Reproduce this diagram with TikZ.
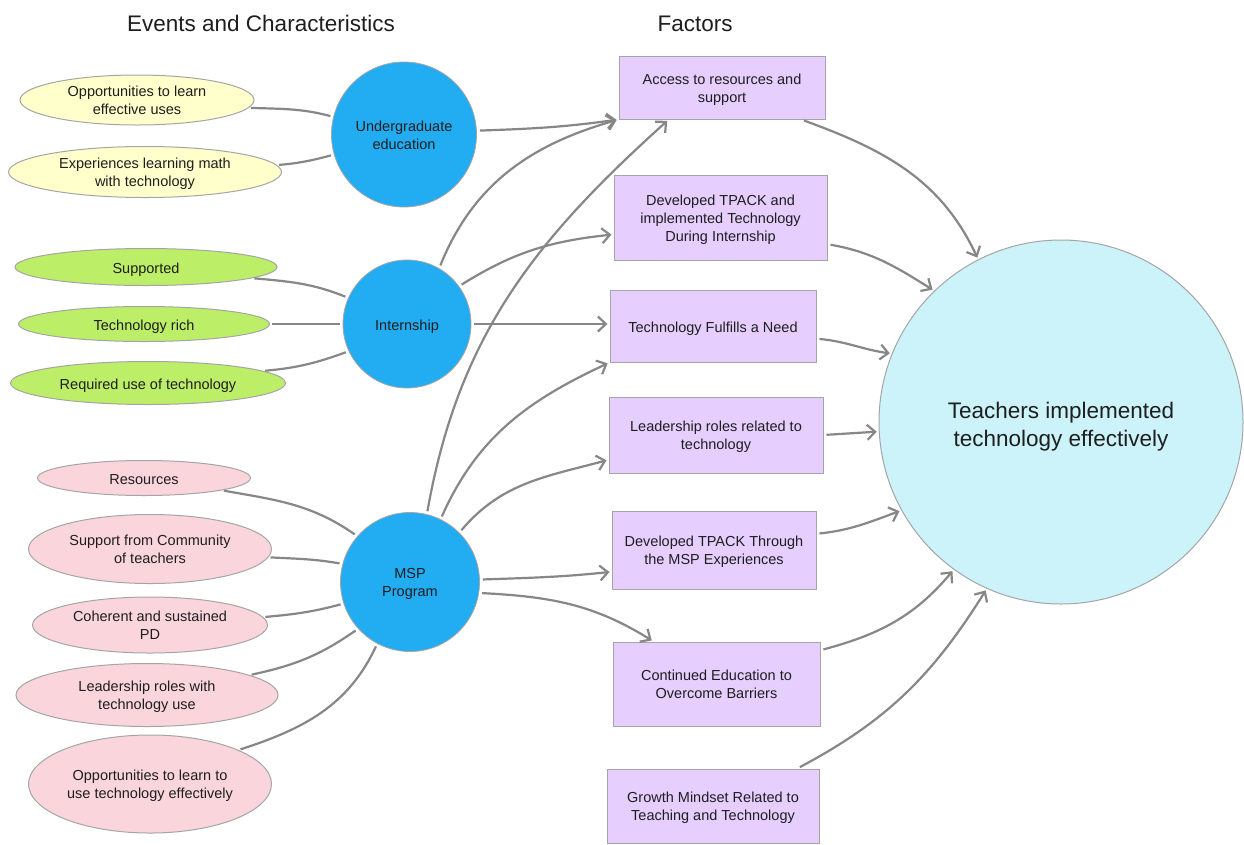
\documentclass[tikz,border=0pt]{standalone}
\usepackage{fontspec}
\setmainfont{Liberation Sans}
\usetikzlibrary{shapes.geometric,arrows.meta}
\definecolor{yel}{RGB}{255,255,204}
\definecolor{grn}{RGB}{188,238,104}
\definecolor{pnk}{RGB}{250,214,220}
\definecolor{blu}{RGB}{34,172,242}
\definecolor{pur}{RGB}{230,206,255}
\definecolor{cyn}{RGB}{204,243,250}
\definecolor{edgec}{RGB}{135,135,135}
\definecolor{bord}{RGB}{165,165,165}
\definecolor{txtc}{RGB}{30,30,30}
\newcommand\mlines[1]{\begin{tabular}[t]{@{}c@{}}#1\end{tabular}}
\begin{document}
\begin{tikzpicture}[x=1pt,y=1pt,
  txt/.style={font=\fontsize{14.5}{18}\selectfont, text=txtc},
  lone/.style={text height=13pt, text depth=0pt},
  ltwo/.style={text height=13pt, text depth=20pt},
  lthree/.style={text height=13pt, text depth=36.6pt},
  ell/.style={ellipse, draw=bord, line width=1pt, inner sep=0pt, txt},
  bub/.style={circle, draw=bord, line width=0.8pt, fill=blu, inner sep=0pt, txt},
  fbox/.style={rectangle, draw=bord, line width=1pt, fill=pur, inner sep=0pt, txt},
  ttl/.style={font=\fontsize{22.5}{27}\selectfont, text=txtc, anchor=base},
  ln/.style={draw=edgec, line width=2.2pt, shorten <=2pt, shorten >=3pt},
  arr/.style={draw=edgec, line width=2.2pt, shorten <=3pt, shorten >=2pt,
    -{Straight Barb[length=8pt,width=15pt]}}
]
\useasboundingbox[fill=white] (0,0) rectangle (1244,-844);

% titles
\node[ttl] (t1) at (261,-31) {Events and Characteristics};
\node[ttl] (t2) at (695,-31) {Factors};

% ellipses
\node[ell, ltwo, fill=yel, minimum width=234pt, minimum height=50pt] (e1) at (137,-100) {\mlines{Opportunities to learn\\effective uses}};
\node[ell, ltwo, fill=yel, minimum width=273pt, minimum height=51pt] (e2) at (145,-172) {\mlines{Experiences learning math\\with technology}};
\node[ell, lone, fill=grn, minimum width=262pt, minimum height=37pt] (e3) at (146,-267) {Supported};
\node[ell, lone, fill=grn, minimum width=251pt, minimum height=35pt] (e4) at (144,-324) {Technology rich};
\node[ell, lone, fill=grn, minimum width=275pt, minimum height=43pt] (e5) at (148,-383) {Required use of technology};
\node[ell, lone, fill=pnk, minimum width=213pt, minimum height=35pt] (e6) at (144,-478) {Resources};
\node[ell, ltwo, fill=pnk, minimum width=243pt, minimum height=69pt] (e7) at (150,-549) {\mlines{Support from Community\\of teachers}};
\node[ell, ltwo, fill=pnk, minimum width=235pt, minimum height=56pt] (e8) at (150,-625) {\mlines{Coherent and sustained\\PD}};
\node[ell, ltwo, fill=pnk, minimum width=262pt, minimum height=63pt] (e9) at (147,-695) {\mlines{Leadership roles with\\technology use}};
\node[ell, ltwo, fill=pnk, minimum width=243pt, minimum height=98pt] (e10) at (150,-784) {\mlines{Opportunities to learn to\\use technology effectively}};

% circles
\node[bub, ltwo, minimum size=145pt] (ug) at (404,-134.5) {\mlines{Undergraduate\\education}};
\node[bub, lone, minimum size=128pt] (intern) at (407,-324) {Internship};
\node[bub, ltwo, minimum size=139pt] (msp) at (410,-582) {\mlines{MSP\\Program}};
\node[circle, draw=bord, line width=1pt, fill=cyn, inner sep=0pt, minimum size=364pt,
  font=\fontsize{22.5}{28}\selectfont, text=txtc, text height=18pt, text depth=26pt]
  (big) at (1061,-422) {\mlines{Teachers implemented\\technology effectively}};

% factor boxes
\node[fbox, ltwo, minimum width=206pt, minimum height=63pt] (b1) at (722,-87.5) {\mlines{Access to resources and\\support}};
\node[fbox, lthree, minimum width=213pt, minimum height=85pt] (b2) at (720.5,-217.5) {\mlines{Developed TPACK and\\implemented Technology\\During Internship}};
\node[fbox, lone, minimum width=206pt, minimum height=72pt] (b3) at (713,-326) {Technology Fulfills a Need};
\node[fbox, ltwo, minimum width=214pt, minimum height=76pt] (b4) at (716,-435) {\mlines{Leadership roles related to\\technology}};
\node[fbox, ltwo, minimum width=204pt, minimum height=78pt] (b5) at (714,-550) {\mlines{Developed TPACK Through\\the MSP Experiences}};
\node[fbox, ltwo, minimum width=207pt, minimum height=84pt] (b6) at (716.5,-684) {\mlines{Continued Education to\\Overcome Barriers}};
\node[fbox, ltwo, minimum width=212pt, minimum height=74pt] (b7) at (713,-806) {\mlines{Growth Mindset Related to\\Teaching and Technology}};

% characteristic links
\draw[ln] (e1.-4) to[out=-2,in=165] (ug.166);
\draw[ln] (e2.3) to[out=5,in=195] (ug.196);
\draw[ln] (e3.-6) to[out=-5,in=158] (intern.156);
\draw[ln] (e4.east) -- (intern.west);
\draw[ln] (e5.6) to[out=5,in=200] (intern.205);
\draw[ln] (e6.-9) to[out=-10,in=145] (msp.139);
\draw[ln] (e7.-4) to[out=-3,in=170] (msp.165);
\draw[ln] (e8.4) to[out=5,in=195] (msp.198);
\draw[ln] (e9.11) to[out=12,in=215] (msp.222);
\draw[ln] (e10.21) to[out=18,in=245] (msp.242);

% arrows to factors
\draw[arr] (ug.3) to[out=2,in=188] (b1.south west);
\draw[arr] (intern.60) to[out=68,in=196] (b1.south west);
\draw[arr] (msp.76) to[out=80,in=222] (b1.211);
\draw[arr] (intern.36) to[out=32,in=186] (b2.189);
\draw[arr] (intern.east) -- (intern.east -| b3.west);
\draw[arr] (msp.64) to[out=66,in=205] (b3.south west);
\draw[arr] (msp.45) to[out=50,in=195] (b4.193);
\draw[arr] (msp.2) to[out=2,in=186] (b5.192);
\draw[arr] (msp.-9) to[out=-3,in=148] (b6.146);

% arrows to outcome
\draw[arr] (b1.-22) to[out=-20,in=115] (big.117);
\draw[arr] (b2.-14) to[out=-10,in=148] (big.134);
\draw[arr] (b3.-7) to[out=-5,in=172] (big.158);
\draw[arr] (b4.east) -- (big.183);
\draw[arr] (b5.9) to[out=6,in=200] (big.209);
\draw[arr] (b6.18) to[out=15,in=230] (big.234);
\draw[arr] (b7.24) to[out=28,in=238] (big.246);
\end{tikzpicture}
\end{document}
